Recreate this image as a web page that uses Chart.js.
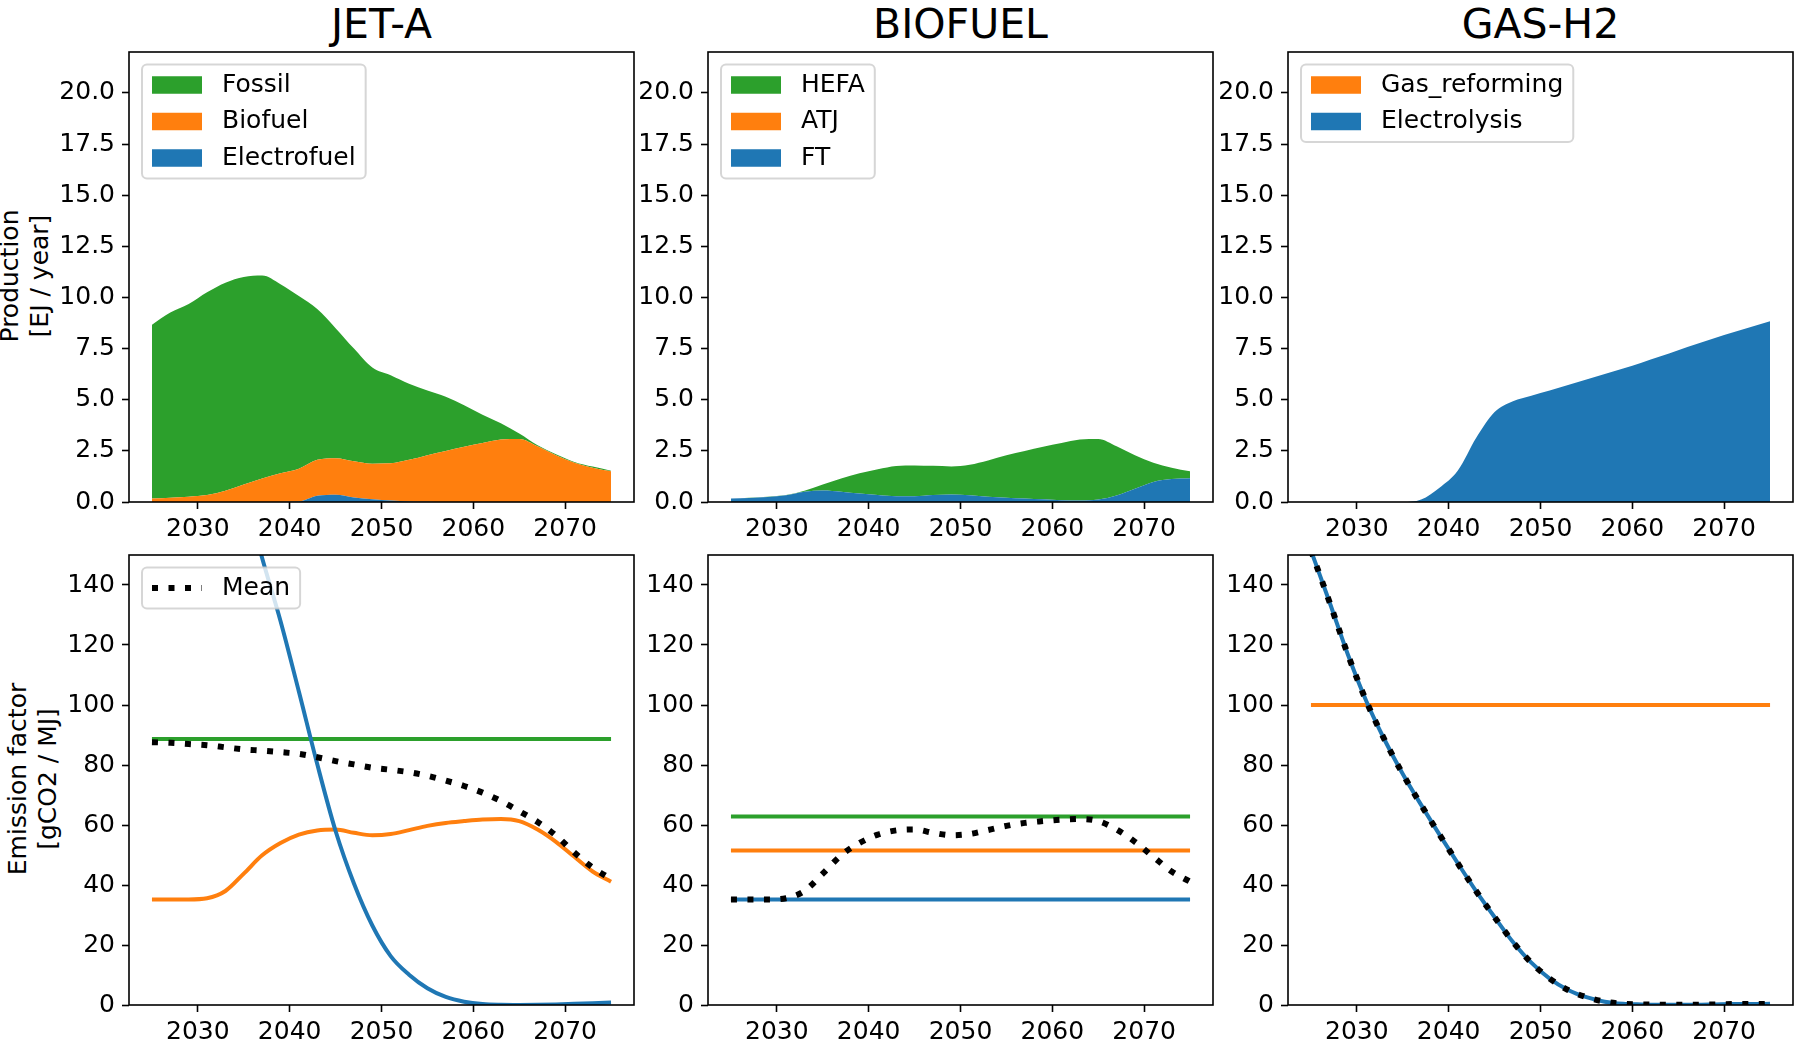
<!DOCTYPE html>
<html>
<head>
<meta charset="utf-8">
<script src="https://cdn.jsdelivr.net/npm/chart.js@4.4.1/dist/chart.umd.min.js"></script>
<style>
body { margin: 0; background: #fff; }
#fig { position: relative; width: 1800px; height: 1050px; overflow: hidden; font-family: 'DejaVu Sans'; color: #000; }
#fig canvas { position: absolute; }
.title { position: absolute; top: 4px; font-size: 41px; line-height: 41px; transform: translateX(-50%); white-space: nowrap; }
.ylab { position: absolute; font-size: 25px; line-height: 30px; text-align: center; white-space: nowrap; transform: translate(-50%, -50%) rotate(-90deg); }
</style>
</head>
<body>
<div id="fig">
  <div class="title" style="left:381.5px">JET-A</div>
  <div class="title" style="left:960.5px">BIOFUEL</div>
  <div class="title" style="left:1540.5px">GAS-H2</div>
  <div class="ylab" style="left:24.5px; top:276px">Production<br>[EJ / year]</div>
  <div class="ylab" style="left:32.5px; top:779px">Emission factor<br>[gCO2 / MJ]</div>
</div>
<script>
// ---- data ----
const years = [2025, 2027, 2029, 2031, 2033, 2035, 2037, 2039, 2041, 2043, 2045, 2047, 2049,
               2051, 2053, 2055, 2057, 2059, 2061, 2063, 2065, 2067, 2069, 2071, 2073, 2075];
const lineYears = [2025, 2075];   // for the flat emission factor lines

const xTicks = [2030, 2040, 2050, 2060, 2070];
const prodTicks = [0, 2.5, 5, 7.5, 10, 12.5, 15, 17.5, 20];
const efTicks = [0, 20, 40, 60, 80, 100, 120, 140];

// production [EJ / year], one value per year above
const jetElectrofuel = [0, 0, 0, 0, 0, 0, 0, 0, 0.02, 0.30, 0.35, 0.22, 0.13, 0.07, 0.03, 0.01, 0, 0, 0, 0, 0, 0, 0, 0, 0, 0];
const jetBiofuel = [0.17, 0.21, 0.26, 0.34, 0.55, 0.85, 1.15, 1.40, 1.60, 1.76, 1.79, 1.77, 1.74, 1.82, 2.03, 2.28, 2.49, 2.70, 2.88, 3.05, 3.08, 2.72, 2.28, 1.92, 1.68, 1.50];
const jetFossil = [8.50, 9.05, 9.42, 9.91, 10.17, 10.15, 9.92, 9.25, 8.45, 7.37, 6.36, 5.51, 4.71, 4.31, 3.72, 3.16, 2.66, 2.03, 1.39, 0.80, 0.27, 0.06, 0.05, 0.04, 0.05, 0.03];

const bioFT = [0.17, 0.20, 0.25, 0.33, 0.50, 0.56, 0.50, 0.41, 0.34, 0.28, 0.28, 0.34, 0.37, 0.33, 0.26, 0.21, 0.17, 0.13, 0.09, 0.07, 0.12, 0.32, 0.65, 0.98, 1.12, 1.16];
const bioATJ = [0, 0, 0, 0, 0, 0, 0, 0, 0, 0, 0, 0, 0, 0, 0, 0, 0, 0, 0, 0, 0, 0, 0, 0, 0, 0];
const bioHEFA = [0, 0.01, 0.01, 0.01, 0.05, 0.29, 0.65, 0.99, 1.26, 1.48, 1.51, 1.43, 1.37, 1.49, 1.77, 2.07, 2.32, 2.57, 2.79, 2.98, 2.96, 2.40, 1.63, 0.94, 0.56, 0.34];

const h2Electrolysis = [0, 0, 0, 0, 0, 0, 0.12, 0.70, 1.54, 3.14, 4.40, 4.93, 5.20, 5.45, 5.72, 5.99, 6.26, 6.53, 6.81, 7.11, 7.42, 7.72, 8.02, 8.30, 8.57, 8.84];
const h2Gas = [0, 0, 0, 0, 0, 0, 0, 0, 0, 0, 0, 0, 0, 0, 0, 0, 0, 0, 0, 0, 0, 0, 0, 0, 0, 0];

// emission factors [gCO2 / MJ]
const jetFossilEF = [88.7, 88.7];
const jetElectrofuelEF = [330, 290, 255, 225, 198, 172, 149, 128, 104.5, 80.3, 58, 40.5, 26.5, 16.3, 10.1, 5.6, 2.7, 1.1, 0.3, 0.05, 0, 0.05, 0.2, 0.4, 0.6, 0.8];
const jetMeanEF = [87.6, 87.4, 87.0, 86.6, 85.9, 85.2, 84.8, 84.3, 83.7, 82.6, 81.3, 80.2, 79.1, 78.4, 77.6, 76.4, 74.8, 73.0, 70.8, 68.0, 64.6, 61.0, 56.5, 50.8, 45.8, 42.0];
// biofuel mean, also the biofuel line of JET-A
const biofuelEF = [35.2, 35.2, 35.2, 35.6, 38.0, 43.8, 49.9, 54.0, 56.8, 58.2, 58.5, 57.4, 56.6, 57.0, 58.3, 59.7, 60.7, 61.3, 61.8, 62.0, 61.3, 58.5, 54.4, 49.4, 44.5, 41.1];
const bioHEFAEF = [62.8, 62.8];
const bioATJEF = [51.5, 51.5];
const bioFTEF = [35.2, 35.2];
const h2GasEF = [100, 100];
// electrolysis line, the mean lies on it
const h2ElectrolysisEF = [151.5, 134.5, 117, 101.5, 88.5, 77, 66.7, 56.8, 47.2, 37.9, 29.3, 21, 14.1, 8.8, 5.0, 2.6, 1.1, 0.4, 0.2, 0.1, 0.1, 0.1, 0.2, 0.3, 0.3, 0.4];

const GREEN = '#2ca02c', ORANGE = '#ff7f0e', BLUE = '#1f77b4';
const FS = 25;

// ---- helpers ----
Chart.defaults.font.family = "'DejaVu Sans'";
Chart.defaults.font.size = FS;
Chart.defaults.color = '#000';

function pts(xs, ys) {
  return xs.map((x, i) => ({ x: x, y: ys[i] }));
}

function area(label, ys, color, fill) {
  return { label: label, data: pts(years, ys), backgroundColor: color, borderColor: 'rgba(0,0,0,0)', borderWidth: 1, fill: fill };
}

function line(label, xs, ys, color, order) {
  return { label: label, data: pts(xs, ys), borderColor: color, borderWidth: 4, fill: false, order: order };
}

function mean(ys) {
  return { label: 'Mean', data: pts(years, ys), borderColor: '#000', borderWidth: 6, borderDash: [6, 10.5], borderCapStyle: 'butt', fill: false, order: 0 };
}

// box around the axes
const frame = {
  id: 'frame',
  afterDraw(chart) {
    const ctx = chart.ctx, a = chart.chartArea;
    ctx.save();
    ctx.strokeStyle = '#000';
    ctx.lineWidth = 1.6;
    ctx.strokeRect(a.left, a.top, a.right - a.left, a.bottom - a.top);
    ctx.restore();
  }
};

// matplotlib-like legend in the upper left corner of the axes
const boxLegend = {
  id: 'boxLegend',
  afterDatasetsDraw(chart, args, opts) {
    if (!opts.ds) return;
    const ctx = chart.ctx, a = chart.chartArea;
    const items = opts.ds.map(i => chart.data.datasets[i]);
    const pad = 10, first = 20.5, step = 36.5, hLen = 50, hH = 17.5, hGap = 20;
    ctx.save();
    ctx.font = FS + "px 'DejaVu Sans'";
    const tw = Math.max(...items.map(d => ctx.measureText(d.label).width));
    const x0 = a.left + 13, y0 = a.top + 12.5;
    const w = pad + hLen + hGap + tw + pad;
    const h = 2 * first + (items.length - 1) * step;
    ctx.beginPath();
    ctx.roundRect(x0, y0, w, h, 5);
    ctx.fillStyle = 'rgba(255,255,255,0.8)';
    ctx.fill();
    ctx.lineWidth = 2;
    ctx.strokeStyle = 'rgba(204,204,204,0.8)';
    ctx.stroke();
    items.forEach((d, i) => {
      const cy = y0 + first + i * step;
      const hx = x0 + pad;
      if (d.borderDash) {
        ctx.beginPath();
        ctx.setLineDash(d.borderDash);
        ctx.lineWidth = d.borderWidth;
        ctx.strokeStyle = d.borderColor;
        ctx.moveTo(hx, cy);
        ctx.lineTo(hx + hLen, cy);
        ctx.stroke();
        ctx.setLineDash([]);
      } else {
        ctx.fillStyle = d.backgroundColor;
        ctx.fillRect(hx, cy - hH / 2, hLen, hH);
      }
      ctx.fillStyle = '#000';
      ctx.textBaseline = 'middle';
      ctx.fillText(d.label, hx + hLen + hGap, cy);
    });
    ctx.restore();
  }
};

// ---- layout ----
const fig = document.getElementById('fig');
const colLeft = [129, 708, 1288], rowTop = [50, 553];
const axW = 505, axH = 452;
const YW = 90, XH = 50, PAD_T = 20, PAD_R = 20;

function panel(col, row, datasets, opt) {
  const c = document.createElement('canvas');
  c.width = axW + YW + PAD_R;
  c.height = axH + PAD_T + XH;
  c.style.left = (colLeft[col] - YW) + 'px';
  c.style.top = (rowTop[row] - PAD_T) + 'px';
  fig.appendChild(c);

  const tickGrid = { display: true, drawOnChartArea: false, drawTicks: true, tickLength: 7, tickWidth: 1.6, tickColor: '#000' };

  new Chart(c, {
    type: 'line',
    data: { datasets: datasets },
    options: {
      responsive: false,
      animation: false,
      events: [],
      layout: { padding: { top: PAD_T, right: PAD_R, left: 0, bottom: 0 } },
      elements: {
        point: { radius: 0 },
        line: { cubicInterpolationMode: 'monotone' }
      },
      scales: {
        x: {
          type: 'linear', min: 2022.5, max: 2077.5,
          afterBuildTicks: s => { s.ticks = xTicks.map(v => ({ value: v })); },
          afterFit: s => { s.height = XH; },
          grid: tickGrid,
          border: { display: false },
          ticks: { padding: 5, maxRotation: 0, autoSkip: false, callback: v => String(v) }
        },
        y: {
          type: 'linear', min: 0, max: opt.yMax, stacked: opt.stacked,
          afterBuildTicks: s => { s.ticks = opt.yTicks.map(v => ({ value: v })); },
          afterFit: s => { s.width = YW; },
          grid: tickGrid,
          border: { display: false },
          ticks: { padding: 7, autoSkip: false, callback: opt.fmt }
        }
      },
      plugins: {
        legend: { display: false },
        tooltip: { enabled: false },
        boxLegend: { ds: opt.legend }
      }
    },
    plugins: [frame, boxLegend]
  });
}

const prodOpt = legend => ({ yMax: 22, yTicks: prodTicks, stacked: true, fmt: v => v.toFixed(1), legend: legend });
const efOpt = legend => ({ yMax: 150, yTicks: efTicks, stacked: false, fmt: v => String(v), legend: legend });

// production, stacked from the bottom
panel(0, 0, [
  area('Electrofuel', jetElectrofuel, BLUE, 'origin'),
  area('Biofuel', jetBiofuel, ORANGE, '-1'),
  area('Fossil', jetFossil, GREEN, '-1')
], prodOpt([2, 1, 0]));

panel(1, 0, [
  area('FT', bioFT, BLUE, 'origin'),
  area('ATJ', bioATJ, ORANGE, '-1'),
  area('HEFA', bioHEFA, GREEN, '-1')
], prodOpt([2, 1, 0]));

panel(2, 0, [
  area('Electrolysis', h2Electrolysis, BLUE, 'origin'),
  area('Gas_reforming', h2Gas, ORANGE, '-1')
], prodOpt([1, 0]));

// emission factors
panel(0, 1, [
  mean(jetMeanEF),
  line('Fossil', lineYears, jetFossilEF, GREEN, 3),
  line('Biofuel', years, biofuelEF, ORANGE, 2),
  line('Electrofuel', years, jetElectrofuelEF, BLUE, 1)
], efOpt([0]));

panel(1, 1, [
  mean(biofuelEF),
  line('HEFA', lineYears, bioHEFAEF, GREEN, 3),
  line('ATJ', lineYears, bioATJEF, ORANGE, 2),
  line('FT', lineYears, bioFTEF, BLUE, 1)
], efOpt(null));

panel(2, 1, [
  mean(h2ElectrolysisEF),
  line('Gas_reforming', lineYears, h2GasEF, ORANGE, 2),
  line('Electrolysis', years, h2ElectrolysisEF, BLUE, 1)
], efOpt(null));
</script>
</body>
</html>
